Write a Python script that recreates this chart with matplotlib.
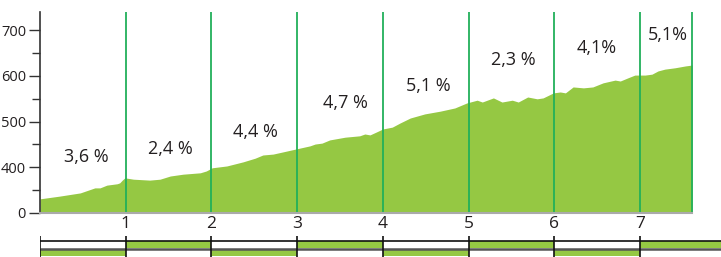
import matplotlib.pyplot as plt
import matplotlib.ticker as mticker

# elevation profile (km, m)
dist_km = [0.00, 0.23, 0.47, 0.64, 0.70, 0.78, 0.90, 0.93, 0.96, 0.99,
           1.09, 1.28, 1.40, 1.52, 1.67, 1.87, 1.94, 2.01, 2.18, 2.37,
           2.51, 2.60, 2.72, 2.84, 3.03, 3.15, 3.21, 3.29, 3.38, 3.56,
           3.73, 3.79, 3.85, 3.92, 4.00, 4.11, 4.20, 4.32, 4.49, 4.67,
           4.84, 4.98, 5.10, 5.16, 5.29, 5.39, 5.51, 5.58, 5.69, 5.80,
           5.87, 5.99, 6.07, 6.13, 6.22, 6.34, 6.45, 6.57, 6.71, 6.77,
           6.86, 6.94, 7.06, 7.14, 7.21, 7.29, 7.41, 7.53, 7.61]
elev_m = [331, 337, 344, 355, 355, 361, 364, 366, 372, 377,
          374, 372, 374, 381, 385, 388, 392, 399, 403, 412,
          420, 427, 429, 434, 442, 447, 451, 453, 460, 466,
          469, 473, 471, 477, 484, 488, 497, 508, 517, 523,
          530, 541, 547, 543, 552, 543, 547, 543, 554, 550,
          552, 563, 565, 563, 576, 574, 576, 585, 591, 589,
          596, 602, 602, 604, 611, 615, 618, 622, 624]

total_km = 7.61
km_marks = [1, 2, 3, 4, 5, 6, 7]
grade_labels = ["3,6 %", "2,4 %", "4,4 %", "4,7 %", "5,1 %", "2,3 %", "4,1%", "5,1%"]
grade_x = [0.54, 1.52, 2.51, 3.56, 4.53, 5.52, 6.50, 7.33]
grade_y = [422, 440, 478, 540, 578, 635, 661, 689]

ytick_vals = [300, 400, 500, 600, 700]
ytick_text = ["0", "400", "500", "600", "700"]

fill_col = "#95c843"
line_col = "#22b05a"
text_col = "#231f20"

plt.rcParams['font.family'] = ['Open Sans', 'DejaVu Sans']

fig = plt.figure(figsize=(7.21, 2.57), dpi=100)
W, H = 721, 257
x_right = 681 / 85.71
ax = fig.add_axes([40 / W, 44 / H, 681 / W, 201 / H])
ax.set_xlim(0, x_right)
ax.set_ylim(300, 300 + 201 / 0.4567)

ax.fill_between(dist_km, 300, elev_m, color=fill_col, lw=0, zorder=1)
for k in km_marks + [total_km]:
    ax.axvline(k, color=line_col, lw=1.3, zorder=2)

for t, gx, gy in zip(grade_labels, grade_x, grade_y):
    ax.text(gx, gy, t, ha='center', va='center', fontsize=13, color=text_col)

for s in ['top', 'right']:
    ax.spines[s].set_visible(False)
ax.spines['left'].set_color('#333333')
ax.spines['left'].set_linewidth(1.2)
ax.spines['bottom'].set_color('#aaaaaa')
ax.spines['bottom'].set_linewidth(1.5)
ax.spines['bottom'].set_bounds(0, total_km)

ax.set_yticks(ytick_vals)
ax.set_yticklabels(ytick_text)
ax.yaxis.set_minor_locator(mticker.FixedLocator([350, 450, 550, 650]))
ax.tick_params(axis='y', which='major', length=8, width=1, color='#333333',
               labelsize=10.5, labelcolor=text_col, pad=2)
ax.tick_params(axis='y', which='minor', length=6, width=1, color='#333333')
ax.set_xticks(km_marks)
ax.set_xticklabels([str(k) for k in km_marks])
ax.tick_params(axis='x', length=0, labelsize=12.5, labelcolor=text_col, pad=2)

# scale bar
sb = fig.add_axes([40 / W, 0, 681 / W, 21 / H])
sb.set_xlim(0, x_right)
sb.set_ylim(0, 21)
sb.axis('off')
for i in range(0, 8):
    end = min(i + 1, x_right)
    top_green = i % 2 == 1
    sb.bar(i, 7, width=end - i, bottom=9, align='edge',
           color=fill_col if top_green else 'white', lw=0)
    sb.bar(i, 7, width=end - i, bottom=1, align='edge',
           color='white' if top_green else fill_col, lw=0)
sb.hlines([16], 0, x_right, color='#111111', lw=1.2)
sb.hlines([8.5], 0, x_right, color='#555555', lw=1.8)
sb.vlines([0] + km_marks, 0, 21, color='#111111', lw=1.2)

fig.savefig('out.png', dpi=100)
